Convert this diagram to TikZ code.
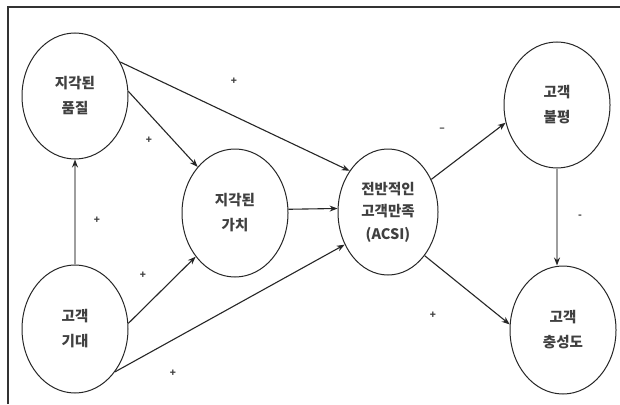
\documentclass[tikz,border=0pt]{standalone}
\usepackage{fontspec}
\newfontfamily\kr{Noto Sans CJK KR}
\usetikzlibrary{shapes.geometric,arrows.meta}
\tikzset{
  oval/.style={draw=black!85,line width=1pt,ellipse,inner sep=0pt,align=center,
    font=\kr\bfseries\fontsize{14.5}{25}\selectfont,text=black!75},
  conn/.style={draw=black!85,line width=1.1pt,-{Stealth[length=8pt,width=6pt]}},
  grayconn/.style={draw=black!38,line width=1.6pt,-{Stealth[length=8pt,width=6pt,color=black!85]}},
  sign/.style={font=\kr\bfseries\fontsize{10}{10}\selectfont,text=black!75,inner sep=0pt}
}
\begin{document}
\begin{tikzpicture}[x=1pt,y=-1pt]
\useasboundingbox (0,0) rectangle (620,404);
\fill[white] (0,0) rectangle (620,404);
\draw[black!80,line width=1.8pt] (8,404) -- (8,7) -- (620,7);

\node[oval,minimum width=106pt,minimum height=126pt] (Q) at (75,96) {지각된\\품질};
\node[oval,minimum width=106pt,minimum height=128pt] (E) at (75,329) {고객\\기대};
\node[oval,minimum width=106pt,minimum height=128pt] (V) at (235,213) {지각된\\가치};
\node[oval,minimum width=100pt,minimum height=126pt,font=\kr\bfseries\fontsize{14.5}{22.5}\selectfont] (S) at (388,212) {전반적인\\고객만족\\(ACSI)};
\node[oval,minimum width=106pt,minimum height=126pt] (C) at (557,105) {고객\\불평};
\node[oval,minimum width=106pt,minimum height=128pt] (L) at (563,330) {고객\\충성도};

\draw[conn] (Q.37) -- (S.133);
\draw[conn] (Q.5) -- (V.129);
\draw[grayconn] (E.north) -- (Q.south);
\draw[conn] (E.6) -- (V.228);
\draw[conn] (E.-47) -- (S.217);
\draw[conn] (V.4) -- (S.176);
\draw[conn] (S.37) -- (C.199);
\draw[conn] (S.-50) -- (L.174);
\draw[grayconn] (C.south) -- (C.south |- L.north);

\node[sign] (p1) at (234,81) {+};
\node[sign] (p2) at (149,140) {+};
\node[sign] (p3) at (97,220) {+};
\node[sign] (p4) at (143,275) {+};
\node[sign] (p5) at (173,373) {+};
\node[sign] (p6) at (433,315) {+};
\node[sign] (m1) at (442,130) {–};
\node[sign] (m2) at (580,217) {-};
\end{tikzpicture}
\end{document}
